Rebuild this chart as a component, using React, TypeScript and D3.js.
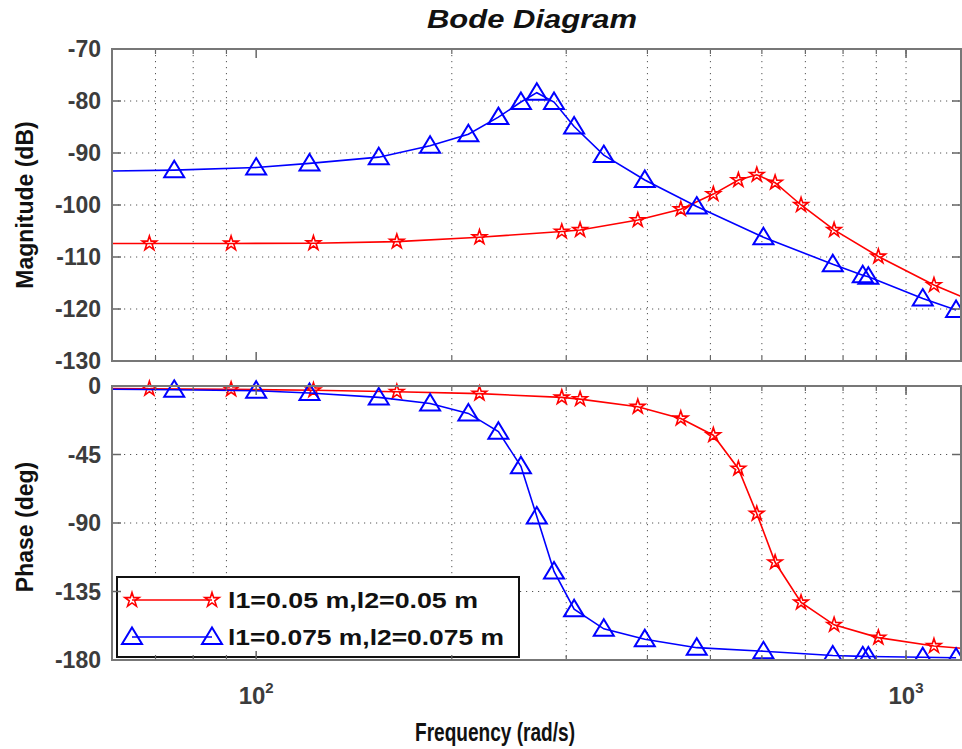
import React from "react";
import * as d3 from "d3";

// ---------- data ----------
const redFreq = [51.2, 68.5, 91.5, 122.5, 164.6, 220.6, 295.3, 315.1, 386.6, 450.2, 505.2, 552.1, 589.3, 628.8, 689.4, 775, 906.6, 1104, 1350];
const redMag = [-107.4, -107.4, -107.4, -107.35, -107.05, -106.2, -105.1, -104.8, -102.9, -100.8, -97.9, -95.2, -94.2, -95.7, -100.0, -104.8, -109.9, -115.4, -120.0];
const redPhase = [-1.4, -1.8, -2.2, -2.8, -3.8, -5.0, -7.5, -8.6, -13.6, -21.3, -32.3, -54.3, -83.9, -115.8, -142.2, -156.9, -165.3, -170.8, -174.0];

const blueFreq = [55.9, 74.8, 100, 120.8, 154.4, 185.2, 212.1, 235.9, 255.5, 270.3, 287.3, 308.5, 342.7, 396.3, 476.4, 603.3, 771.4, 857.8, 875, 1061, 1194];
const blueMag = [-93.5, -93.3, -92.8, -92.0, -90.8, -88.6, -86.4, -83.1, -80.2, -78.4, -80.2, -84.9, -90.4, -95.2, -100.3, -106.2, -111.4, -113.5, -113.8, -118.0, -120.2];
const bluePhase = [-2.0, -2.5, -3.1, -4.6, -7.5, -11.5, -18.0, -30.0, -52.7, -85.7, -121.8, -146.6, -159.5, -166.4, -171.9, -174.3, -177.0, -177.6, -177.7, -178.2, -178.5];

const magTicks = [-70, -80, -90, -100, -110, -120, -130];
const phaseTicks = [0, -45, -90, -135, -180];
const freqDomain = [60, 1215];
const majorFreq = [100, 1000];
const minorFreq = [60, 70, 80, 90, 200, 300, 400, 500, 600, 700, 800, 900, 1000];
const legendLabels = ["l1=0.05 m,l2=0.05 m", "l1=0.075 m,l2=0.075 m"];
const titleText = "Bode Diagram";
const xLabel = "Frequency  (rad/s)";
const magLabel = "Magnitude (dB)";
const phaseLabel = "Phase (deg)";

const RED = "#ff0000";
const BLUE = "#0000ff";
const FONT = "'Liberation Sans', Arial, sans-serif";

const L = 112, R = 961;
const MT = 49, MB = 361;
const PT = 386, PB = 660;

const x = d3.scaleLog().domain(freqDomain).range([L, R]);
const yMag = d3.scaleLinear().domain([-70, -130]).range([MT, MB]);
const yPh = d3.scaleLinear().domain([0, -180]).range([PT, PB]);

const starPath = d3.symbol().type(d3.symbolStar).size(64)() as string;
const triPath = "M0,-9.5L10,7L-10,7Z";

function Marker({ kind, cx, cy }: { kind: "star" | "tri"; cx: number; cy: number }) {
  if (kind === "star")
    return <path d={starPath} transform={`translate(${cx},${cy})`} fill="none" stroke={RED} strokeWidth={1.6} />;
  return <path d={triPath} transform={`translate(${cx},${cy})`} fill="none" stroke={BLUE} strokeWidth={2} />;
}

function Series({ freq, vals, y, color, kind, clip }: any) {
  const line = d3.line<number>().x((_, i) => x(freq[i])).y((v) => y(v));
  return (
    <g clipPath={`url(#${clip})`}>
      <path d={line(vals) as string} fill="none" stroke={color} strokeWidth={1.6} />
      {vals.map((v: number, i: number) => (
        <Marker key={i} kind={kind} cx={x(freq[i])} cy={y(v)} />
      ))}
    </g>
  );
}

function Panel({ top, bottom, y, ticks, children }: any) {
  const gridX = minorFreq.filter((f) => x(f) > L + 1 && x(f) < R - 1);
  return (
    <g>
      <rect x={L} y={top} width={R - L} height={bottom - top} fill="#fff" />
      {gridX.map((f) => (
        <line key={"gx" + f} x1={x(f)} x2={x(f)} y1={top} y2={bottom} stroke="#555" strokeWidth={1} strokeDasharray="1.2,4.8" />
      ))}
      {ticks.filter((t: number) => y(t) > top + 1 && y(t) < bottom - 1).map((t: number) => (
        <line key={"gy" + t} x1={L} x2={R} y1={y(t)} y2={y(t)} stroke="#555" strokeWidth={1} strokeDasharray="1.2,4.8" />
      ))}
      {children}
      {ticks.map((t: number) => (
        <g key={"ty" + t}>
          <line x1={L} x2={L + 9} y1={y(t)} y2={y(t)} stroke="#666" strokeWidth={1.5} />
          <line x1={R - 9} x2={R} y1={y(t)} y2={y(t)} stroke="#666" strokeWidth={1.5} />
          <text x={101} y={y(t)} dy="0.36em" textAnchor="end" fontFamily={FONT} fontWeight="bold" fontSize={23} fill="#3c3c3c">
            {t}
          </text>
        </g>
      ))}
      {minorFreq.map((f) => (
        <g key={"tx" + f}>
          <line x1={x(f)} x2={x(f)} y1={bottom} y2={bottom - 5} stroke="#666" strokeWidth={1.2} />
          <line x1={x(f)} x2={x(f)} y1={top} y2={top + 5} stroke="#666" strokeWidth={1.2} />
        </g>
      ))}
      {majorFreq.map((f) => (
        <g key={"tX" + f}>
          <line x1={x(f)} x2={x(f)} y1={bottom} y2={bottom - 9} stroke="#666" strokeWidth={1.5} />
          <line x1={x(f)} x2={x(f)} y1={top} y2={top + 9} stroke="#666" strokeWidth={1.5} />
        </g>
      ))}
      <rect x={L} y={top} width={R - L} height={bottom - top} fill="none" stroke="#777" strokeWidth={2} />
    </g>
  );
}

export default function App() {
  return (
    <svg width={962} height={749} viewBox="0 0 962 749" style={{ position: "absolute", left: 0, top: 0, background: "#fff" }}>
      <defs>
        <clipPath id="clipMag">
          <rect x={L} y={MT} width={R - L} height={MB - MT} />
        </clipPath>
        <clipPath id="clipPh">
          <rect x={L} y={PT - 12} width={R - L} height={PB - PT + 12} />
        </clipPath>
      </defs>
      <rect x={0} y={0} width={962} height={749} fill="#fff" />
      <text x={532} y={28} textAnchor="middle" fontFamily={FONT} fontWeight="bold" fontStyle="italic" fontSize={25} textLength={210} lengthAdjust="spacingAndGlyphs" fill="#111">
        {titleText}
      </text>

      <Panel top={MT} bottom={MB} y={yMag} ticks={magTicks}>
        <Series freq={redFreq} vals={redMag} y={yMag} color={RED} kind="star" clip="clipMag" />
        <Series freq={blueFreq} vals={blueMag} y={yMag} color={BLUE} kind="tri" clip="clipMag" />
      </Panel>

      <Panel top={PT} bottom={PB} y={yPh} ticks={phaseTicks}>
        <Series freq={redFreq} vals={redPhase} y={yPh} color={RED} kind="star" clip="clipPh" />
        <Series freq={blueFreq} vals={bluePhase} y={yPh} color={BLUE} kind="tri" clip="clipPh" />
        <g>
          <rect x={117} y={577} width={402} height={80} fill="#fff" stroke="#111" strokeWidth={2} />
          <line x1={132} x2={212} y1={600} y2={600} stroke={RED} strokeWidth={1.6} />
          <Marker kind="star" cx={132} cy={600} />
          <Marker kind="star" cx={212} cy={600} />
          <text x={228} y={600} dy="0.36em" fontFamily={FONT} fontWeight="bold" fontSize={22} textLength={250} lengthAdjust="spacingAndGlyphs" fill="#111">
            {legendLabels[0]}
          </text>
          <line x1={132} x2={212} y1={637} y2={637} stroke={BLUE} strokeWidth={1.6} />
          <Marker kind="tri" cx={132} cy={637} />
          <Marker kind="tri" cx={212} cy={637} />
          <text x={228} y={637} dy="0.36em" fontFamily={FONT} fontWeight="bold" fontSize={22} textLength={276} lengthAdjust="spacingAndGlyphs" fill="#111">
            {legendLabels[1]}
          </text>
        </g>
      </Panel>

      {majorFreq.map((f) => (
        <text key={"xl" + f} x={x(f)} y={704} textAnchor="middle" fontFamily={FONT} fontWeight="bold" fontSize={24} fill="#3c3c3c">
          10
          <tspan dy={-11} fontSize={15}>{Math.round(Math.log10(f))}</tspan>
        </text>
      ))}

      <text x={495} y={741} textAnchor="middle" fontFamily={FONT} fontWeight="bold" fontSize={25} textLength={160} lengthAdjust="spacingAndGlyphs" fill="#111">
        {xLabel}
      </text>
      <text transform={`translate(33,${(MT + MB) / 2}) rotate(-90)`} textAnchor="middle" fontFamily={FONT} fontWeight="bold" fontSize={23} fill="#111">
        {magLabel}
      </text>
      <text transform={`translate(33,${(PT + PB) / 2 + 4}) rotate(-90)`} textAnchor="middle" fontFamily={FONT} fontWeight="bold" fontSize={23} fill="#111">
        {phaseLabel}
      </text>
    </svg>
  );
}
